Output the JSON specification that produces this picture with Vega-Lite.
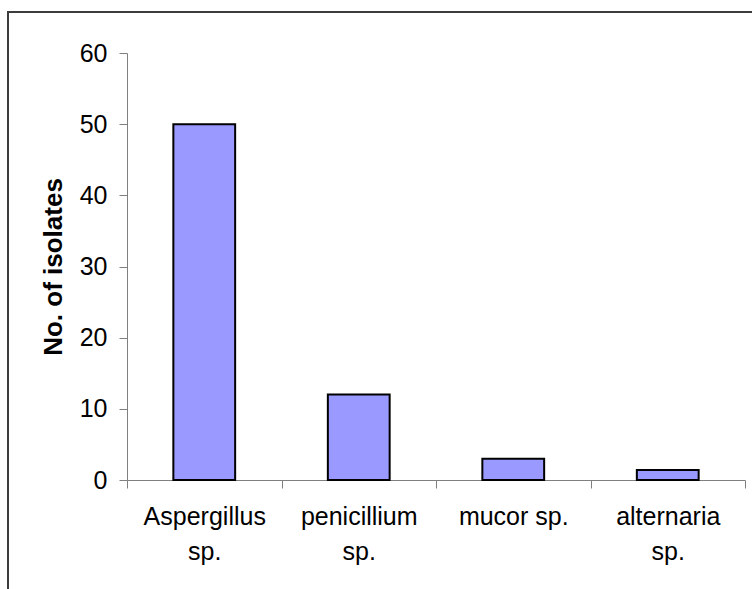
{
  "$schema": "https://vega.github.io/schema/vega-lite/v6.json",
  "autosize": {"type": "none"},
  "width": 756,
  "height": 590,
  "padding": {"left": 8, "top": 12, "right": -12, "bottom": -13},
  "background": "white",
  "config": {
    "font": "Liberation Sans",
    "view": {"stroke": "#3c3c3c", "strokeWidth": 2, "fill": "white"}
  },
  "data": {
    "values": [
      {"genus": "Aspergillus|sp.", "isolates": 50},
      {"genus": "penicillium|sp.", "isolates": 12},
      {"genus": "mucor sp.", "isolates": 3},
      {"genus": "alternaria|sp.", "isolates": 1.4}
    ]
  },
  "mark": {"type": "bar", "fill": "#9999FF", "stroke": "black", "strokeWidth": 2, "width": {"band": 0.4}},
  "encoding": {
    "x": {
      "field": "genus",
      "type": "nominal",
      "sort": null,
      "scale": {"range": [119, 737], "paddingInner": 0, "paddingOuter": 0},
      "axis": {
        "title": null,
        "offset": -122,
        "labelAngle": 0,
        "labelExpr": "isValid(datum.value) ? split(datum.value, '|') : ''",
        "labelFontSize": 25,
        "labelColor": "black",
        "labelBaseline": "top",
        "labelLineHeight": 35,
        "labelPadding": 16,
        "tickBand": "extent",
        "tickSize": 8,
        "tickColor": "#808080",
        "domainColor": "#808080"
      }
    },
    "y": {
      "field": "isolates",
      "type": "quantitative",
      "scale": {"domain": [0, 60], "range": [468, 41], "nice": false},
      "axis": {
        "title": "No. of isolates",
        "offset": -119,
        "values": [0, 10, 20, 30, 40, 50, 60],
        "grid": false,
        "labelFontSize": 25,
        "labelColor": "black",
        "labelPadding": 12,
        "tickSize": 8,
        "tickColor": "#808080",
        "domainColor": "#808080",
        "titleFontSize": 26,
        "titleFontWeight": "bold",
        "titleColor": "black",
        "titlePadding": 13
      }
    }
  }
}
